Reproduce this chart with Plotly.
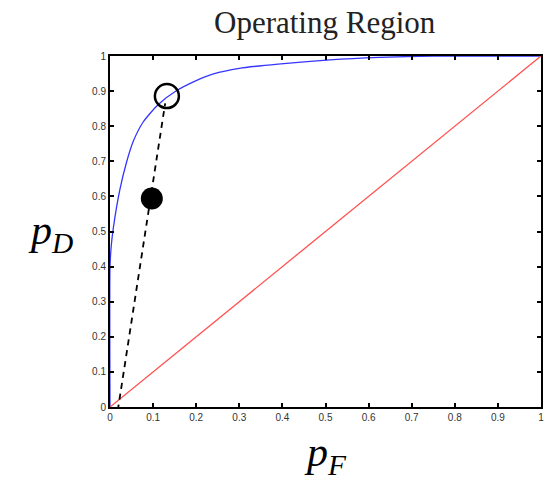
import plotly.graph_objects as go

# ROC curve (blue)
roc_pf = [0, 0, 0.003, 0.0077, 0.023, 0.039, 0.054, 0.077, 0.112, 0.154, 0.2, 0.24, 0.3, 0.39, 0.51, 0.625, 0.75, 1.0]
roc_pd = [0, 0.40, 0.46, 0.51, 0.62, 0.70, 0.757, 0.812, 0.862, 0.901, 0.93, 0.949, 0.965, 0.977, 0.989, 0.996, 1.0, 1.0]
# chance line (red)
diag_pf = [0, 1]
diag_pd = [0, 1]
# dashed operating line
dash_pf = [0.018, 0.128]
dash_pd = [-0.01, 0.865]
# operating points
open_pt = (0.132, 0.886)
filled_pt = (0.097, 0.594)

tick_vals = [0, 0.1, 0.2, 0.3, 0.4, 0.5, 0.6, 0.7, 0.8, 0.9, 1]
tick_text = ["0", "0.1", "0.2", "0.3", "0.4", "0.5", "0.6", "0.7", "0.8", "0.9", "1"]

fig = go.Figure()
fig.add_trace(go.Scatter(x=roc_pf, y=roc_pd, mode="lines",
                         line=dict(color="#3535ff", width=1.3, shape="spline", smoothing=0.6),
                         hoverinfo="skip"))
fig.add_trace(go.Scatter(x=diag_pf, y=diag_pd, mode="lines",
                         line=dict(color="#ff5050", width=1.3), hoverinfo="skip"))
fig.add_trace(go.Scatter(x=dash_pf, y=dash_pd, mode="lines",
                         line=dict(color="black", width=1.8, dash="6px,5px"), hoverinfo="skip",
                         cliponaxis=False))
fig.add_trace(go.Scatter(x=[open_pt[0]], y=[open_pt[1]], mode="markers",
                         marker=dict(size=24, color="rgba(0,0,0,0)", line=dict(color="black", width=2.5)),
                         hoverinfo="skip"))
fig.add_trace(go.Scatter(x=[filled_pt[0]], y=[filled_pt[1]], mode="markers",
                         marker=dict(size=22, color="black"), hoverinfo="skip"))

axis_common = dict(range=[0, 1], tickvals=tick_vals, ticktext=tick_text,
                   ticks="inside", ticklen=4, tickwidth=1.5, tickcolor="black",
                   showline=True, linecolor="black", linewidth=2, mirror="ticks",
                   showgrid=False, zeroline=False,
                   tickfont=dict(family="Liberation Sans, Arial", size=10, color="#333"))

fig.update_layout(
    width=555, height=482,
    margin=dict(l=110, r=14, t=56, b=75),
    paper_bgcolor="white", plot_bgcolor="white",
    showlegend=False,
    xaxis=axis_common,
    yaxis=axis_common,
    title=dict(text="Operating Region", x=0.585, xanchor="center", y=0.954, yanchor="middle",
               font=dict(family="Liberation Serif, Times New Roman", size=31, color="#222")),
    annotations=[
        dict(text="<i>p</i><sub><i>D</i></sub>", xref="paper", yref="paper", x=-0.195, y=0.495,
             xanchor="left", yanchor="middle",
             showarrow=False, font=dict(family="Liberation Serif, Times New Roman", size=42, color="black")),
        dict(text="<i>p</i><sub><i>F</i></sub>", xref="paper", yref="paper", x=0.5, y=-0.138,
             xanchor="center", yanchor="middle",
             showarrow=False, font=dict(family="Liberation Serif, Times New Roman", size=42, color="black")),
    ],
)

fig.write_html("out.html")
